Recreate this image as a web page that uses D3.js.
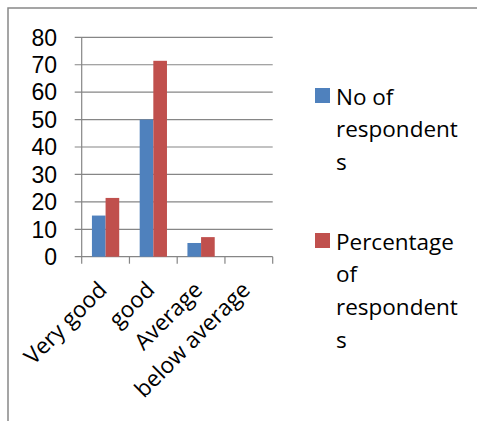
<!DOCTYPE html>
<html><head><meta charset="utf-8">
<script src="https://cdn.jsdelivr.net/npm/d3@7"></script>
<style>body{margin:0;background:#fff}svg{display:block}text{font-family:"Open Sans",sans-serif;fill:#000}</style>
</head><body>
<script>
const categories = ["Very good","good","Average","below average"];
const seriesNames = ["No of respondents","Percentage of respondents"];
const noOfRespondents = [15,50,5,0];
const percentageOfRespondents = [21.43,71.43,7.14,0];
const yTicks = [0,10,20,30,40,50,60,70,80];
const legendLines = [["No of","respondent","s"],["Percentage","of","respondent","s"]];
const colors = ["#4F81BD","#C0504D"];

const W=477,H=421;
const svg=d3.select("body").append("svg").attr("width",W).attr("height",H);
svg.append("rect").attr("x",8).attr("y",8).attr("width",W).attr("height",H)
  .attr("fill","none").attr("stroke","#888").attr("stroke-width",1.5);

const x0=81.7,x1=272.7,yTop=37.3,yBot=256.7;
const x=d3.scaleBand().domain(categories).range([x0,x1]).paddingInner(0).paddingOuter(0);
const y=d3.scaleLinear().domain([0,80]).range([yBot,yTop]);
const series=[noOfRespondents,percentageOfRespondents];
const bw=x.bandwidth()/3.5;

const g=svg.append("g");
g.selectAll("line.grid").data(yTicks).join("line")
  .attr("x1",x0-7).attr("x2",x1).attr("y1",d=>y(d)).attr("y2",d=>y(d))
  .attr("stroke","#868686").attr("stroke-width",1.2);
g.append("line").attr("x1",x0).attr("x2",x0).attr("y1",yTop).attr("y2",yBot+7)
  .attr("stroke","#868686").attr("stroke-width",1.2);
g.selectAll("line.ct").data(categories).join("line")
  .attr("x1",(d,i)=>x(d)+x.bandwidth()).attr("x2",(d,i)=>x(d)+x.bandwidth())
  .attr("y1",yBot).attr("y2",yBot+7).attr("stroke","#868686").attr("stroke-width",1.2);
g.selectAll("text.yl").data(yTicks).join("text")
  .attr("x",57).attr("y",d=>y(d)).attr("dy","0.36em").attr("text-anchor","end")
  .style("font-family","'Liberation Sans',Arial,sans-serif")
  .attr("font-size",23).text(d=>d);
series.forEach((s,si)=>{
  g.selectAll("rect.s"+si).data(s).join("rect")
    .attr("x",(d,i)=>x(categories[i])+bw*0.75+si*bw).attr("width",bw)
    .attr("y",d=>y(d)).attr("height",d=>yBot-y(d)).attr("fill",colors[si]);
});
g.selectAll("text.xl").data(categories).join("text")
  .attr("transform",d=>`translate(${x(d)+x.bandwidth()/2-3},${yBot+29}) rotate(-45)`)
  .attr("text-anchor","end").attr("dy","0.35em").attr("font-size",22.5).text(d=>d);
const legY=[88,233];
legendLines.forEach((lines,li)=>{
  svg.append("rect").attr("x",315).attr("y",legY[li]).attr("width",15).attr("height",15).attr("fill",colors[li]);
  lines.forEach((t,k)=>{
    svg.append("text").attr("x",336).attr("y",legY[li]+16.5+k*32.7).attr("font-size",22.5).text(t);
  });
});
</script>
</body></html>
